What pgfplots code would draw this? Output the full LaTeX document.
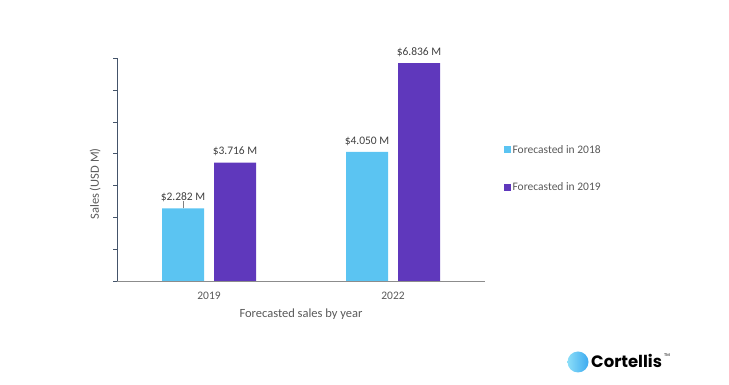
\documentclass[border=0pt]{standalone}
\usepackage{pgfplots}
\pgfplotsset{compat=1.18}
\usepackage{fontspec}
\setmainfont{Carlito}
\newfontfamily\logofont{Poppins}
\definecolor{lblue}{RGB}{91,196,242}
\definecolor{dpurple}{RGB}{95,56,188}
\definecolor{txtgray}{RGB}{89,89,89}
\definecolor{lblgray}{RGB}{64,64,64}
\definecolor{yaxcol}{RGB}{68,84,106}
\begin{document}
\begin{tikzpicture}
\useasboundingbox (0pt,0pt) rectangle (729pt,385pt);
\begin{axis}[
  at={(117pt,104pt)}, anchor=south west,
  scale only axis, width=368pt, height=223pt,
  xmin=-0.5, xmax=1.5, ymin=0, ymax=7,
  axis lines*=left,
  x axis line style={draw=gray!90},
  y axis line style={draw=yaxcol},
  ybar=10pt, bar width=42pt,
  ytick={0,1,...,7}, yticklabels={},
  ytick style={draw=yaxcol}, tick align=outside, major tick length=4pt,
  xtick={0,1}, xticklabels={2019,2022},
  xtick style={draw=none},
  /pgf/number format/assume math mode=true,
  ticklabel style={font=\fontsize{11.5}{13}\selectfont, text=txtgray},
  xticklabel style={yshift=-4pt},
  xlabel={Forecasted sales by year},
  xlabel style={font=\fontsize{12.5}{14}\selectfont, text=txtgray, yshift=-2pt},
  ylabel={Sales (USD M)},
  ylabel style={font=\fontsize{12.5}{14}\selectfont, text=txtgray, at={(axis description cs:-0.035,0.435)}, anchor=south},
  nodes near coords={\$\pgfmathprintnumber[fixed,fixed zerofill,precision=3,assume math mode=true]{\pgfplotspointmeta}~M},
  nodes near coords style={font=\fontsize{11.5}{13}\selectfont, text=lblgray, yshift=3pt},
  legend style={draw=none, fill=none, at={(axis description cs:1.05,0.504)}, anchor=west,
    font=\fontsize{11.5}{13}\selectfont, text=txtgray, row sep=24pt, inner sep=0pt},
  legend cell align=left,
  legend image code/.code={\fill[#1,draw=none] (0pt,-3.5pt) rectangle (7pt,3.5pt);},
]
\addplot[fill=lblue, draw=none,
  error bars/.cd, y dir=plus, y explicit, error mark=none,
  error bar style={draw=gray, line width=0.6pt}]
  coordinates {(0,2.282) +- (0,0.22) (1,4.050) +- (0,0)};
\addplot[fill=dpurple, draw=none] coordinates {(0,3.716) (1,6.836)};
\legend{Forecasted in 2018, Forecasted in 2019}
\end{axis}
\shade[left color={rgb,255:red,140;green,222;blue,248}, right color={rgb,255:red,60;green,170;blue,240}] (578pt,23pt) circle (10.5pt);
\node[anchor=base west, inner sep=0pt, font=\logofont\bfseries\fontsize{16.5}{18}\selectfont] at (591pt,17pt) {Cortellis};
\node[anchor=west, inner sep=0pt, font=\logofont\fontsize{4}{5}\selectfont] at (664pt,30pt) {TM};
\end{tikzpicture}
\end{document}
